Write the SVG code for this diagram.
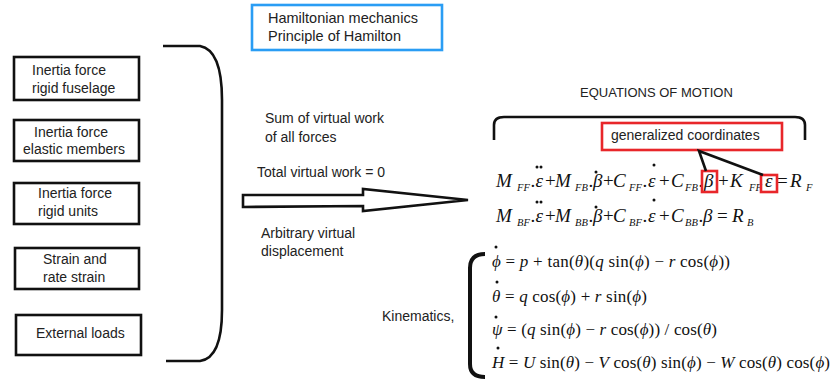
<svg xmlns="http://www.w3.org/2000/svg" width="832" height="383" viewBox="0 0 832 383">
<style>
.bg{fill:#fff}
.box{fill:#fff;stroke:#111;stroke-width:2.6}
.lbl{font-family:"Liberation Sans",Arial,sans-serif;font-size:14px;fill:#222}
.ln{fill:none;stroke:#111;stroke-width:2.6}
.red{fill:none;stroke:#e8262a;stroke-width:2.6}
.eq{font-family:"Liberation Serif","Times New Roman",serif;font-size:19px;fill:#111}
.kin{font-family:"Liberation Serif","Times New Roman",serif;font-size:17px;fill:#111}
.i{font-style:italic}
.sub{font-style:italic;font-size:10.5px}
.dot{fill:#111}
</style>
<rect class="bg" x="0" y="0" width="832" height="383"/>

<g id="node-hamilton">
<rect x="252" y="5" width="190" height="45" fill="#fff" stroke="#2a9df4" stroke-width="2.6"/>
<text class="lbl" style="font-size:14.5px" x="268" y="23">Hamiltonian mechanics</text>
<text class="lbl" style="font-size:14.5px" x="268" y="41">Principle of Hamilton</text>
</g>

<g id="node-rigid-fuselage">
<rect class="box" x="14" y="57" width="125" height="43"/>
<text class="lbl" x="32" y="75">Inertia force</text>
<text class="lbl" x="32" y="93">rigid fuselage</text>
</g>
<g id="node-elastic-members">
<rect class="box" x="14" y="120" width="125" height="41"/>
<text class="lbl" x="34" y="137">Inertia force</text>
<text class="lbl" x="23" y="154">elastic members</text>
</g>
<g id="node-rigid-units">
<rect class="box" x="14" y="183" width="125" height="41"/>
<text class="lbl" x="38" y="198">Inertia force</text>
<text class="lbl" x="38" y="216">rigid units</text>
</g>
<g id="node-strain">
<rect class="box" x="15" y="248" width="124" height="41"/>
<text class="lbl" x="43" y="264">Strain and</text>
<text class="lbl" x="43" y="282">rate strain</text>
</g>
<g id="node-external-loads">
<rect class="box" x="16" y="315" width="125" height="40"/>
<text class="lbl" x="36" y="338">External loads</text>
</g>

<g id="node-virtual-work">
<text class="lbl" x="265" y="123">Sum of virtual work</text>
<text class="lbl" x="265" y="142">of all forces</text>
<text class="lbl" x="257" y="177">Total virtual work = 0</text>
<text class="lbl" x="261" y="238">Arbitrary virtual</text>
<text class="lbl" x="261" y="256">displacement</text>
</g>

<g id="node-eom-title">
<text class="lbl" style="font-size:13px" x="580" y="97">EQUATIONS OF MOTION</text>
</g>

<g id="node-generalized">
<rect class="red" x="602" y="123" width="180" height="27"/>
<text class="lbl" x="611" y="140">generalized coordinates</text>
</g>

<g id="node-eq1">
<text class="eq">
<tspan class="i" x="496" y="187">M</tspan><tspan class="sub" x="517" y="191">FF</tspan><tspan x="530.5" y="187">.</tspan><tspan class="i" x="535.5" y="187">ε</tspan><tspan x="545" y="187">+</tspan><tspan class="i" x="555" y="187">M</tspan><tspan class="sub" x="575" y="191">FB</tspan><tspan x="588.5" y="187">.</tspan><tspan class="i" x="593" y="187">β</tspan><tspan x="603" y="187">+</tspan><tspan class="i" x="613" y="187">C</tspan><tspan class="sub" x="629" y="191">FF</tspan><tspan x="642.5" y="187">.</tspan><tspan class="i" x="648" y="187">ε</tspan><tspan x="659" y="187">+</tspan><tspan class="i" x="671" y="187">C</tspan><tspan class="sub" x="685" y="191">FB</tspan><tspan x="698.5" y="187">.</tspan><tspan class="i" x="704" y="187">β</tspan><tspan x="718" y="187">+</tspan><tspan class="i" x="730" y="187">K</tspan><tspan class="sub" x="749" y="191">FF</tspan><tspan class="i" x="765" y="187">ε</tspan><tspan x="777" y="187">=</tspan><tspan class="i" x="790" y="187">R</tspan><tspan class="sub" x="806" y="191">F</tspan>
</text>
<circle class="dot" cx="537" cy="167" r="1.5"/><circle class="dot" cx="541" cy="167" r="1.5"/>
<circle class="dot" cx="596" cy="172" r="1.5"/>
<circle class="dot" cx="654" cy="165" r="1.5"/>
<rect class="red" x="702" y="171" width="15" height="21"/>
<rect class="red" x="761" y="175" width="16" height="17"/>
</g>

<g id="node-eq2">
<text class="eq">
<tspan class="i" x="496" y="222">M</tspan><tspan class="sub" x="517" y="226">BF</tspan><tspan x="530.5" y="222">.</tspan><tspan class="i" x="535.5" y="222">ε</tspan><tspan x="545" y="222">+</tspan><tspan class="i" x="555" y="222">M</tspan><tspan class="sub" x="575" y="226">BB</tspan><tspan x="588.5" y="222">.</tspan><tspan class="i" x="593" y="222">β</tspan><tspan x="603" y="222">+</tspan><tspan class="i" x="613" y="222">C</tspan><tspan class="sub" x="629" y="226">BF</tspan><tspan x="642.5" y="222">.</tspan><tspan class="i" x="648" y="222">ε</tspan><tspan x="659" y="222">+</tspan><tspan class="i" x="671" y="222">C</tspan><tspan class="sub" x="685" y="226">BB</tspan><tspan x="698.5" y="222">.</tspan><tspan class="i" x="703" y="222">β</tspan><tspan x="717" y="222">=</tspan><tspan class="i" x="732" y="222">R</tspan><tspan class="sub" x="747" y="226">B</tspan>
</text>
<circle class="dot" cx="537" cy="202" r="1.5"/><circle class="dot" cx="541" cy="202" r="1.5"/>
<circle class="dot" cx="596" cy="207" r="1.5"/>
<circle class="dot" cx="654" cy="200" r="1.5"/>
</g>

<g id="node-kinematics">
<text class="lbl" x="382" y="321">Kinematics,</text>
<text class="kin" x="492" y="267" textLength="238" lengthAdjust="spacing"><tspan class="i">ϕ</tspan> = <tspan class="i">p</tspan> + tan(<tspan class="i">θ</tspan>)(<tspan class="i">q</tspan> sin(<tspan class="i">ϕ</tspan>) − <tspan class="i">r</tspan> cos(<tspan class="i">ϕ</tspan>))</text>
<text class="kin" x="492" y="302" textLength="155" lengthAdjust="spacing"><tspan class="i">θ</tspan> = <tspan class="i">q</tspan> cos(<tspan class="i">ϕ</tspan>) + <tspan class="i">r</tspan> sin(<tspan class="i">ϕ</tspan>)</text>
<text class="kin" x="492" y="335" textLength="225" lengthAdjust="spacing"><tspan class="i">ψ</tspan> = (<tspan class="i">q</tspan> sin(<tspan class="i">ϕ</tspan>) − <tspan class="i">r</tspan> cos(<tspan class="i">ϕ</tspan>)) / cos(<tspan class="i">θ</tspan>)</text>
<text class="kin" x="492" y="368" textLength="338" lengthAdjust="spacing"><tspan class="i">H</tspan> = <tspan class="i">U</tspan> sin(<tspan class="i">θ</tspan>) − <tspan class="i">V</tspan> cos(<tspan class="i">θ</tspan>) sin(<tspan class="i">ϕ</tspan>) − <tspan class="i">W</tspan> cos(<tspan class="i">θ</tspan>) cos(<tspan class="i">ϕ</tspan>)</text>
<circle class="dot" cx="496" cy="247" r="1.5"/>
<circle class="dot" cx="497" cy="282" r="1.5"/>
<circle class="dot" cx="496" cy="317" r="1.5"/>
<circle class="dot" cx="498" cy="348" r="1.5"/>
</g>

<g id="connectors">
<path class="ln" d="M163 46 L200 46 Q222 50 222 100 L222 310 Q222 358 200 361 L166 361"/>
<polygon points="243,195 363,195 363,189 468,200 363,211 363,206 243,207" fill="#fff" stroke="#111" stroke-width="2.6" stroke-linejoin="miter"/>
<path class="ln" d="M494 140 L494 125 Q494 117 504 117 L795 117 Q805 117 805 125 L805 140"/>
<path class="ln" d="M706 171 L699 151 L763 175"/>
<path fill="none" stroke="#111" stroke-width="4" d="M485 254 Q470 254 470 268 L470 364 Q470 377 485 377"/>
</g>
</svg>
